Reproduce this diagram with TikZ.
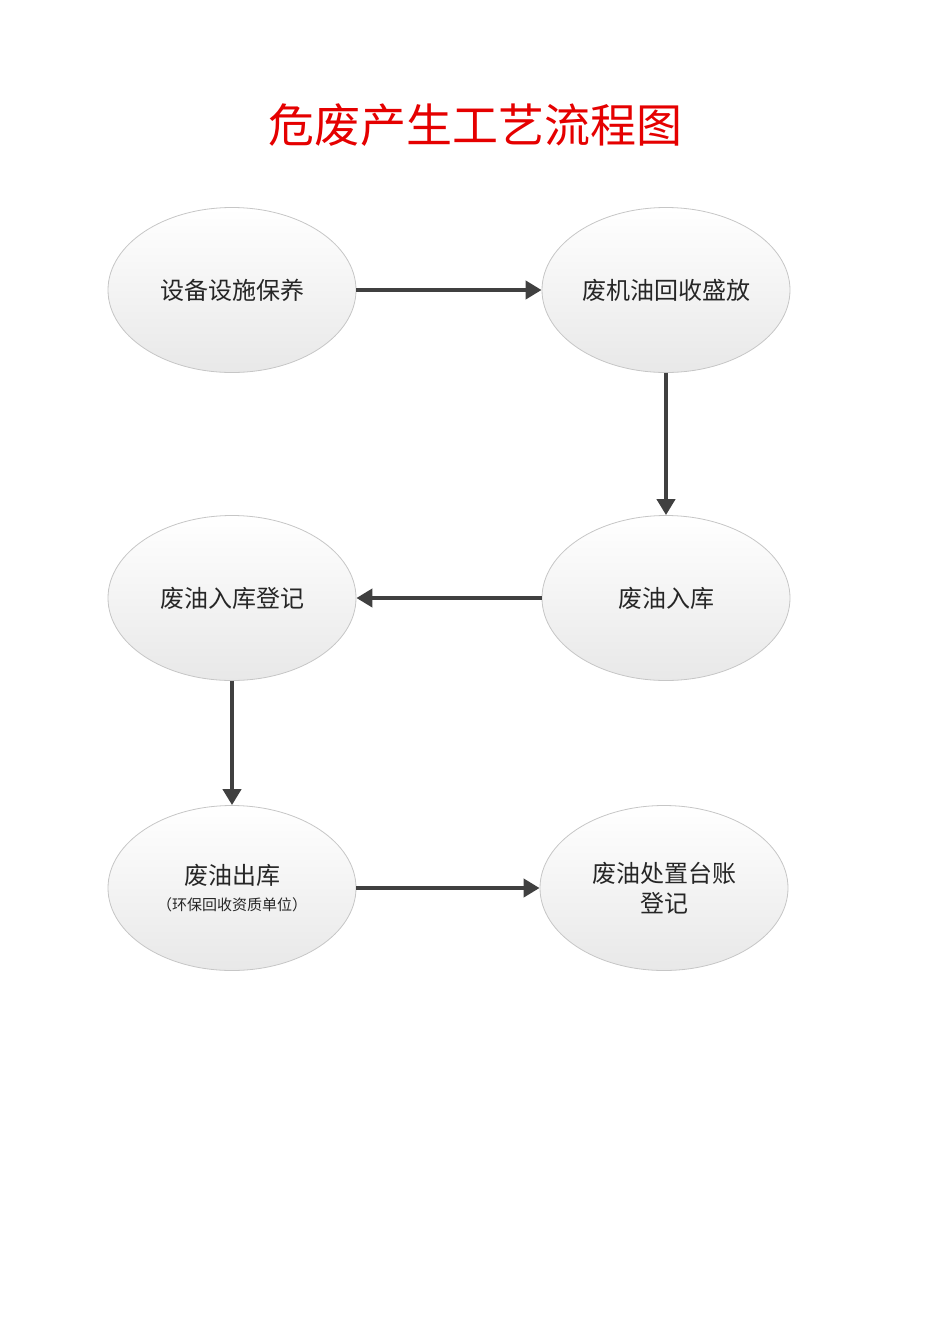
\documentclass[tikz,border=0pt]{standalone}
\usepackage{fontspec}
\newfontfamily\cjk{Noto Sans CJK SC}
\usetikzlibrary{shapes.geometric,arrows.meta}
\tikzset{
  stage/.style={ellipse, draw=gray!45, line width=0.8pt, top color=white, bottom color=gray!18,
    minimum width=248pt, minimum height=165pt, inner sep=0pt, align=center,
    font=\cjk\fontsize{24}{30}\selectfont, text=black!85},
  flow/.style={draw=black!75, line width=4.5pt, -{Triangle[length=16pt,width=18pt]}}
}
\begin{document}
\begin{tikzpicture}[x=1pt,y=-1pt]
\useasboundingbox (0,0) rectangle (950,1344);
\node[font=\cjk\fontsize{46}{50}\selectfont, text=red!90!black] (title) at (475,125) {危废产生工艺流程图};
\node[stage] (a) at (232,290) {设备设施保养};
\node[stage] (b) at (666,290) {废机油回收盛放};
\node[stage] (c) at (666,598) {废油入库};
\node[stage] (d) at (232,598) {废油入库登记};
\node[stage] (e) at (232,888) {废油出库\\[-4pt]{\fontsize{15}{18}\selectfont（环保回收资质单位）}};
\node[stage] (f) at (664,888) {废油处置台账\\登记};
\draw[flow] (a.east) -- (b.west);
\draw[flow] (b.south) -- (c.north);
\draw[flow] (c.west) -- (d.east);
\draw[flow] (d.south) -- (e.north);
\draw[flow] (e.east) -- (f.west);
\end{tikzpicture}
\end{document}
